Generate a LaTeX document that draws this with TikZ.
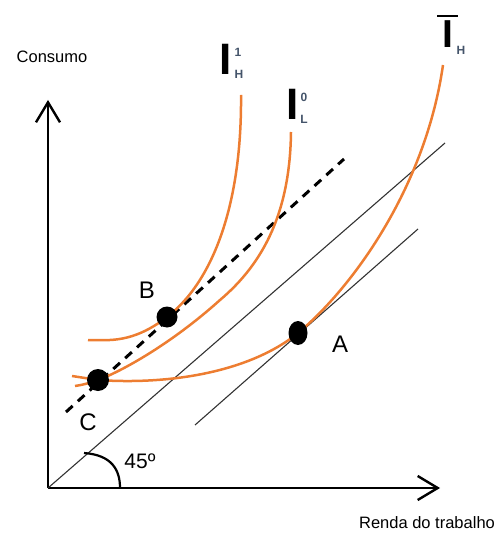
\documentclass[tikz,border=0pt]{standalone}
\usepackage{fontspec}
\setmainfont{Liberation Sans}
\usetikzlibrary{arrows.meta}
\definecolor{curveorange}{RGB}{237,125,49}
\definecolor{subgray}{RGB}{68,84,106}
\tikzset{
  axis/.style={line width=2.4pt,-{Straight Barb[length=20pt,width=24pt,line width=2.4pt]}},
  budget/.style={line width=1.1pt,black!80},
  icurve/.style={line width=2.5pt,curveorange},
  dashline/.style={line width=3pt,dash pattern=on 9pt off 7pt},
  dot/.style={fill=black,draw=none},
  axlabel/.style={font=\fontsize{16.5}{18}\selectfont,inner sep=0pt},
  ptlabel/.style={font=\fontsize{24}{28}\selectfont,inner sep=0pt},
  bigI/.style={font=\fontsize{44}{48}\selectfont\bfseries,inner sep=0pt},
  idx/.style={font=\fontsize{12}{14}\selectfont\bfseries,text=subgray,inner sep=0pt}
}
\begin{document}
\begin{tikzpicture}[x=1pt,y=-1pt]
\useasboundingbox (0,0) rectangle (502,534);
% axes
\coordinate (O) at (48,488);
\coordinate (ytop) at (48,100);
\coordinate (xend) at (440,488);
\draw[axis] (O) -- (ytop);
\draw[axis] (O) -- (xend);
\node[axlabel] (ylab) at (52,57) {Consumo};
\node[axlabel] (xlab) at (427,523) {Renda do trabalho};
% 45 degree line and parallel budget line
\coordinate (l45end) at (445,143);
\draw[budget] (O) -- (l45end);
\coordinate (b2s) at (195,425);
\coordinate (b2e) at (418,229);
\draw[budget] (b2s) -- (b2e);
% angle arc
\draw[line width=2.2pt] (84,453) .. controls (112,455) and (120,470) .. (120,488);
\node[font=\fontsize{21}{24}\selectfont,inner sep=0pt] (ang) at (140,461) {45º};
% dashed line
\coordinate (ds) at (66,412);
\coordinate (de) at (344,159);
\draw[dashline] (ds) -- (de);
% indifference curves
\draw[icurve] (241,95) .. controls (242,200) and (215,280) .. (167,317)
  .. controls (132,344) and (108,340) .. (88,340);
\draw[icurve] (291,132) .. controls (290,210) and (265,262) .. (220,300)
  .. controls (170,345) and (120,372) .. (98,380)
  .. controls (90,383) and (82,385) .. (75,386);
\draw[icurve] (443,65) .. controls (425,190) and (350,290) .. (298,333)
  .. controls (250,372) and (170,385) .. (98,380) -- (72,376);
% points
\fill[dot] (167,317) circle (10.5);
\fill[dot] (98,380) circle (11);
\fill[dot] (298,333) ellipse (9.5 and 12);
\node[ptlabel] (Blab) at (147,290) {B};
\node[ptlabel] (Clab) at (88,422) {C};
\node[ptlabel] (Alab) at (340,344) {A};
% curve labels
\node[bigI] (I1) at (225.5,59) {I};
\node[idx] (I1sup) at (238,52) {1};
\node[idx] (I1sub) at (239,74) {H};
\node[bigI] (I0) at (292.5,104) {I};
\node[idx] (I0sup) at (304,97) {0};
\node[idx] (I0sub) at (304,119) {L};
\node[bigI,font=\fontsize{39}{42}\selectfont\bfseries] (Ib) at (447.5,34) {I};
\draw[line width=2pt] (437,16) -- (458,16);
\node[idx] (Ibsub) at (461,50) {H};
\end{tikzpicture}
\end{document}
